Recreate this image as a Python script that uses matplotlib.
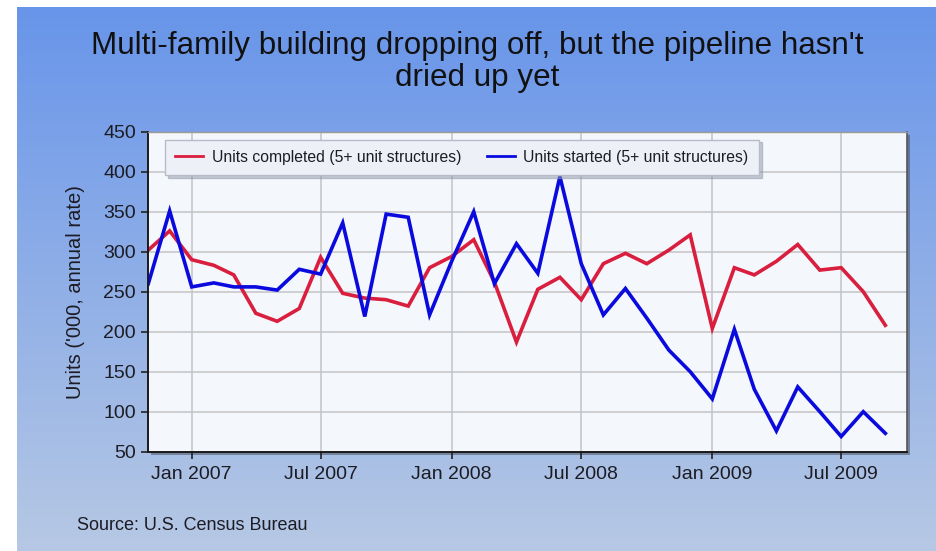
import numpy as np
import pandas as pd
from matplotlib import pyplot as plt
from matplotlib.patches import Rectangle

# monthly starts and completions, 5+ unit structures ('000, annual rate)
months = pd.date_range('2006-11-01', periods=35, freq='MS')
completed = [302, 326, 290, 283, 271, 223, 213, 229, 293, 248, 242, 240,
             232, 280, 294, 315, 262, 187, 253, 268, 240, 285, 298, 285,
             302, 321, 204, 280, 271, 288, 309, 277, 280, 250, 208]
started = [260, 351, 256, 261, 256, 256, 252, 278, 272, 336, 219, 347,
           343, 221, 288, 350, 260, 310, 273, 394, 285, 221, 254, 217,
           177, 150, 116, 203, 128, 76, 131, 100, 69, 100, 73]
tick_dates = pd.to_datetime(['2007-01-01', '2007-07-01', '2008-01-01',
                             '2008-07-01', '2009-01-01', '2009-07-01'])
tick_labels = ['Jan 2007', 'Jul 2007', 'Jan 2008', 'Jul 2008', 'Jan 2009', 'Jul 2009']
y_ticks = np.arange(50, 451, 50)

W, H, DPI = 937, 551, 100
RED = '#d91e3e'
BLUE = '#0a0ade'
TXT = '#1c1c24'
plt.rcParams['font.family'] = ['Liberation Sans', 'DejaVu Sans']

fig = plt.figure(figsize=(W / DPI, H / DPI), dpi=DPI, facecolor='white')

# blue gradient backdrop, drawn in pixel coordinates
bg = fig.add_axes([0, 0, 1, 1], zorder=-5)
bg.set_xlim(0, W)
bg.set_ylim(H, 0)
bg.axis('off')
grad = np.linspace(0, 1, 256)[:, None]
top_c = np.array([0x68, 0x95, 0xea]) / 255
bot_c = np.array([0xb6, 0xc8, 0xe4]) / 255
img = top_c[None, None, :] * (1 - grad[..., None]) + bot_c[None, None, :] * grad[..., None]
bg.imshow(img, extent=[17, W, H, 7], aspect='auto', interpolation='bilinear')
# drop shadow behind the plot area
bg.add_patch(Rectangle((151.5, 134.5), 758.4, 320, facecolor='#4a5060', alpha=0.55,
                       edgecolor='none'))

L, R, T, B = 148.3, 906.7, 131.7, 451.7
ax = fig.add_axes([L / W, 1 - B / H, (R - L) / W, (B - T) / H])
ax.set_facecolor('#f4f7fc')

ax.plot(months, completed, color=RED, lw=2.6, label='Units completed (5+ unit structures)',
        solid_joinstyle='miter')
ax.plot(months, started, color=BLUE, lw=2.6, label='Units started (5+ unit structures)',
        solid_joinstyle='miter')

ax.set_xlim(pd.Timestamp('2006-11-01'), pd.Timestamp('2009-10-01'))
ax.set_ylim(50, 450)
ax.set_yticks(y_ticks)
ax.set_xticks(tick_dates)
ax.set_xticklabels(tick_labels)
ax.grid(True, color='#c4c4c4', lw=1.1)
ax.set_axisbelow(True)
ax.tick_params(axis='both', direction='out', length=5, width=1.2, color='#222222',
               labelsize=14, labelcolor=TXT)
ax.tick_params(axis='y', pad=4)
ax.tick_params(axis='x', pad=5)

for side in ['left', 'bottom']:
    ax.spines[side].set_color('#1a1a1a')
    ax.spines[side].set_linewidth(1.4)
ax.spines['top'].set_color('#9a9a9a')
ax.spines['top'].set_linewidth(1.0)
ax.spines['right'].set_color('#555555')
ax.spines['right'].set_linewidth(1.2)

ax.set_ylabel("Units ('000, annual rate)", fontsize=14.5, color=TXT)
ax.yaxis.set_label_coords(-0.083, 0.5)

leg = ax.legend(loc='upper left', bbox_to_anchor=(0.022, 0.975), ncol=2, fontsize=11.3,
                handlelength=1.8, handletextpad=0.55, columnspacing=1.6,
                borderpad=0.65, borderaxespad=0, fancybox=False, framealpha=1,
                shadow={'color': '#9099aa', 'alpha': 0.5})
leg.get_frame().set_facecolor('#eef0f8')
leg.get_frame().set_edgecolor('#b8bcc8')
leg.get_frame().set_linewidth(1.0)
for line in leg.get_lines():
    line.set_linewidth(2.0)
for t in leg.get_texts():
    t.set_color(TXT)

fig.text(477 / W, 1 - 62 / H,
         "Multi-family building dropping off, but the pipeline hasn't\ndried up yet",
         ha='center', va='center', fontsize=22.6, linespacing=1.08, color='#111111')
fig.text(77 / W, 1 - 526 / H, 'Source: U.S. Census Bureau', ha='left', va='center',
         fontsize=13, color=TXT)

fig.savefig('out.png', dpi=DPI, facecolor='white')
